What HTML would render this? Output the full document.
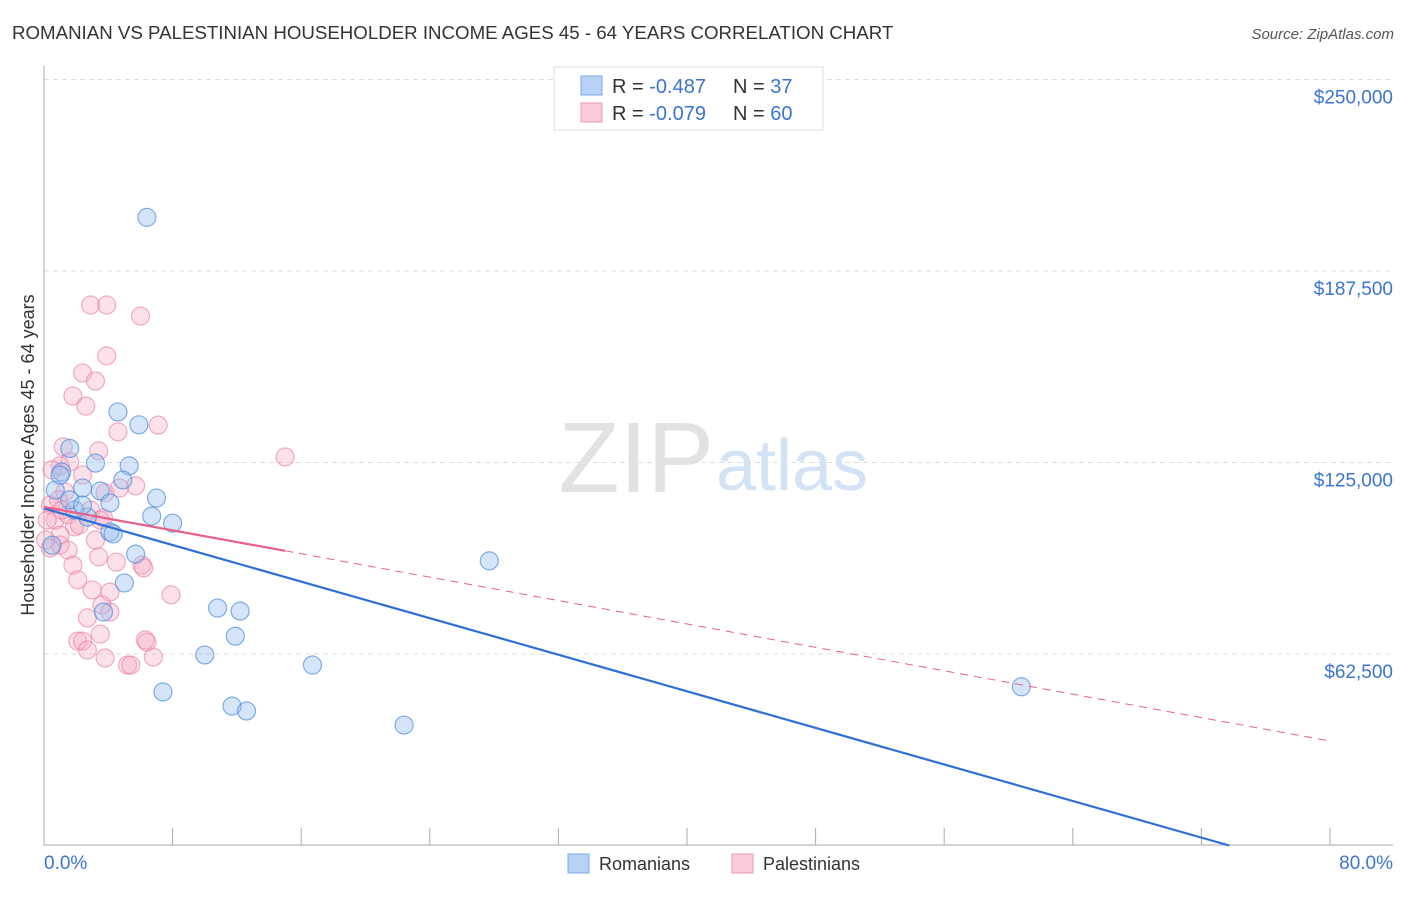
<!DOCTYPE html>
<html><head><meta charset="utf-8"><style>
body{margin:0;background:#fff;font-family:"Liberation Sans",sans-serif;}
svg text{font-family:"Liberation Sans",sans-serif;}
</style></head><body>
<svg id="chart" width="1406" height="892" xmlns="http://www.w3.org/2000/svg">
<text x="12" y="39" font-size="18.7" fill="#333">ROMANIAN VS PALESTINIAN HOUSEHOLDER INCOME AGES 45 - 64 YEARS CORRELATION CHART</text>
<text x="1394" y="39" font-size="15" fill="#555" text-anchor="end" font-style="italic">Source: ZipAtlas.com</text>
<g id="grid"></g>
<g id="yticks"></g>
<g id="xaxis"></g>
<text x="714" y="492" font-size="100" fill="#e2e2e2" text-anchor="end" font-family="Liberation Serif">ZIP</text>
<text x="716" y="490" font-size="72" fill="#d3e2f5">atlas</text>
<text transform="translate(34,455) rotate(-90)" font-size="18" fill="#333" text-anchor="middle">Householder Income Ages 45 - 64 years</text>
<g id="pts"></g>
<g id="trends"></g>
<g>
<rect x="554" y="67" width="269" height="63" fill="#fff" stroke="#ddd"/>
<rect x="581" y="76" width="21" height="19" fill="#b7d2f5" stroke="#7aa8e6"/>
<rect x="581" y="103" width="21" height="19" fill="#fbcadb" stroke="#ee9bb7"/>
<text x="612" y="93" font-size="20" fill="#333">R = <tspan fill="#3b74d6">-0.487</tspan></text>
<text x="733" y="93" font-size="20" fill="#333">N = <tspan fill="#3b74d6"> 37</tspan></text>
<text x="612" y="120" font-size="20" fill="#333">R = <tspan fill="#3b74d6">-0.079</tspan></text>
<text x="733" y="120" font-size="20" fill="#333">N = <tspan fill="#3b74d6">60</tspan></text>
</g>
<g>
<rect x="568" y="854" width="21" height="19" fill="#b7d2f5" stroke="#7aa8e6"/>
<text x="599" y="870" font-size="18" fill="#333">Romanians</text>
<rect x="732" y="854" width="21" height="19" fill="#fbcadb" stroke="#ee9bb7"/>
<text x="763" y="870" font-size="18" fill="#333">Palestinians</text>
</g>
</svg>
<script>
const yTicks=[62500,125000,187500,250000];
const yTickLabels=["$62,500","$125,000","$187,500","$250,000"];
const xTicks=[0,8,16,24,32,40,48,56,64,72,80];
const blueX=[6.4,4.6,5.9,1.6,3.2,5.3,1.1,4.9,2.4,3.5,7.0,4.1,6.7,8.0,2.7,1.9,4.1,4.3,5.7,5.0,3.7,10.8,12.2,11.9,10.0,16.7,7.4,11.7,12.6,22.4,27.7,60.8,0.7,1.6,2.4,1.0,0.5];
const blueY=[205000,141500,137300,129600,124800,123900,121900,119300,116700,115700,113400,111800,107500,105200,107200,109500,102300,101700,95100,85700,76200,77500,76500,68300,62200,58900,50100,45500,43900,39300,92900,51800,116000,112800,111100,120900,98000];
const pinkX=[2.9,3.9,6.0,3.9,2.4,3.2,1.8,2.6,7.1,4.6,3.4,1.2,1.6,15.0,1.0,2.4,3.8,5.7,1.3,0.4,0.7,1.5,3.7,2.9,1.9,3.5,1.0,1.0,1.5,3.4,1.8,4.5,6.1,6.2,2.1,3.0,4.1,7.9,3.6,2.7,4.1,3.5,2.1,2.4,6.3,6.4,2.7,3.8,5.2,5.4,6.8,0.4,0.2,0.5,0.9,0.1,1.1,2.2,3.2,4.7];
const pinkY=[176400,176400,172800,159800,154200,151600,146700,143400,137200,135000,128800,130100,125200,126800,123900,120900,115100,117400,115400,111100,106200,107900,106900,109500,104000,106200,101300,98100,96400,94200,91500,92500,91500,90600,86700,83400,82700,81800,78500,74300,76200,69000,66700,66700,67100,66400,63800,61200,58900,58900,61500,97100,106200,122600,112800,99700,109500,104600,99700,116700];
const blueTrend=[110000,-1492];
const pinkTrend=[110500,-955];
const pinkSolidEnd=15;

const NS="http://www.w3.org/2000/svg";
const X0=44,X1=1330,Y0=845.5,YPER=191.5/62500;
const sx=v=>X0+v/80*(X1-X0);
const sy=v=>Y0-v*YPER;
function mk(tag,attrs,parent){const e=document.createElementNS(NS,tag);for(const k in attrs)e.setAttribute(k,attrs[k]);document.getElementById(parent).appendChild(e);return e;}
yTicks.forEach((t,i)=>{
  const l=mk('line',{x1:X0,x2:1393,y1:sy(t),y2:sy(t),stroke:'#ddd','stroke-dasharray':'5,4'},'grid');
  
  
  const tx=mk('text',{x:1393,y:sy(t)+24,'font-size':19,fill:'#3b74d6','text-anchor':'end'},'yticks');
  tx.textContent=yTickLabels[i];
  
  
});
let ax=mk('line',{x1:X0,x2:X0,y1:66,y2:845,stroke:'#aaa'},'xaxis');


ax=mk('line',{x1:X0,x2:1393,y1:845,y2:845,stroke:'#aaa'},'xaxis');


xTicks.forEach(t=>{
  const l=mk('line',{x1:sx(t),x2:sx(t),y1:828,y2:845,stroke:'#aaa'},'xaxis');
  
  
});
let xl=mk('text',{x:44,y:869,'font-size':19,fill:'#3b74d6'},'xaxis');xl.textContent='0.0%';


xl=mk('text',{x:1393,y:869,'font-size':19,fill:'#3b74d6','text-anchor':'end'},'xaxis');xl.textContent='80.0%';


pinkX.forEach((x,i)=>{
  const c=mk('circle',{cx:sx(x),cy:sy(pinkY[i]),r:9,fill:'rgba(247,170,196,0.35)',stroke:'rgba(232,130,165,0.65)','stroke-width':1.2},'pts');
  
  
});
blueX.forEach((x,i)=>{
  const c=mk('circle',{cx:sx(x),cy:sy(blueY[i]),r:9,fill:'rgba(150,190,240,0.4)',stroke:'rgba(80,140,220,0.7)','stroke-width':1.2},'pts');
  
  
});
const bEnd=Math.min(80,-blueTrend[0]/blueTrend[1]);
let tl=mk('line',{x1:sx(0),y1:sy(blueTrend[0]),x2:sx(bEnd),y2:sy(blueTrend[0]+blueTrend[1]*bEnd),stroke:'#2f6fd6','stroke-width':2.2},'trends');


tl=mk('line',{x1:sx(0),y1:sy(pinkTrend[0]),x2:sx(pinkSolidEnd),y2:sy(pinkTrend[0]+pinkTrend[1]*pinkSolidEnd),stroke:'#e8608a','stroke-width':2.2},'trends');


tl=mk('line',{x1:sx(pinkSolidEnd),y1:sy(pinkTrend[0]+pinkTrend[1]*pinkSolidEnd),x2:sx(80),y2:sy(pinkTrend[0]+pinkTrend[1]*80),stroke:'#e8608a','stroke-width':1,'stroke-dasharray':'8,6'},'trends');


</script>
</body></html>
